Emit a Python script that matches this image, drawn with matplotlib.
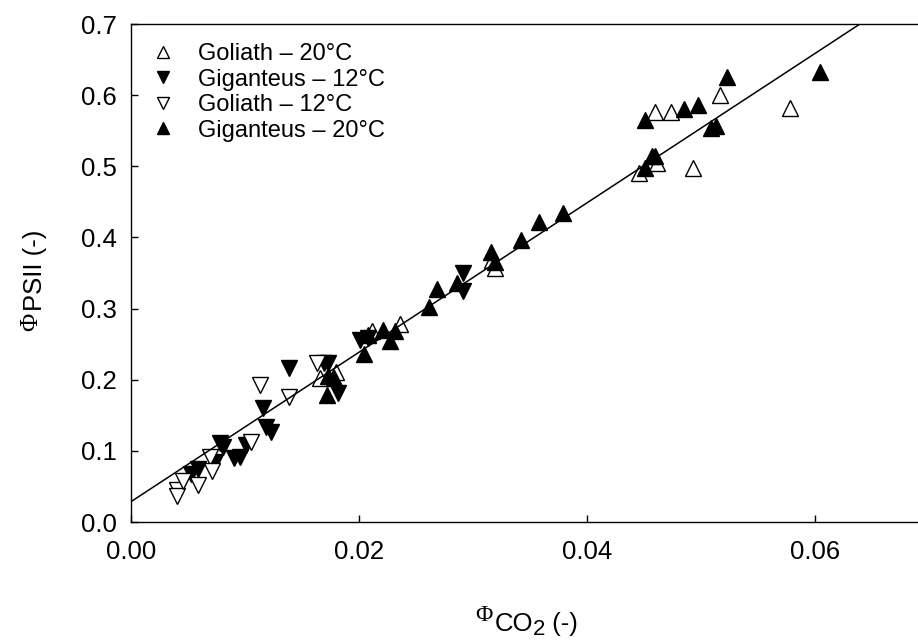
import matplotlib
matplotlib.use("Agg")
import matplotlib.pyplot as plt
import numpy as np

plt.rcParams['font.family'] = ['Liberation Sans', 'DejaVu Sans']

# ---- data ----
goliath20_x = [0.0166, 0.0180, 0.0211, 0.0236, 0.0317, 0.0319, 0.0446, 0.0461,
               0.0460, 0.0474, 0.0493, 0.0517, 0.0578]
goliath20_y = [0.202, 0.211, 0.268, 0.279, 0.368, 0.357, 0.491, 0.504,
               0.576, 0.576, 0.497, 0.600, 0.582]

giganteus12_x = [0.0053, 0.0059, 0.0074, 0.0078, 0.0081, 0.0090, 0.0096, 0.0101,
                 0.0116, 0.0118, 0.0123, 0.0139, 0.0169, 0.0173, 0.0182, 0.0201,
                 0.0208, 0.0291, 0.0291]
giganteus12_y = [0.068, 0.075, 0.085, 0.111, 0.106, 0.090, 0.092, 0.108,
                 0.160, 0.134, 0.127, 0.217, 0.223, 0.223, 0.181, 0.256,
                 0.258, 0.350, 0.324]

goliath12_x = [0.0040, 0.0040, 0.0046, 0.0059, 0.0069, 0.0071, 0.0105, 0.0113,
               0.0139, 0.0163]
goliath12_y = [0.045, 0.036, 0.057, 0.052, 0.092, 0.071, 0.112, 0.193,
               0.176, 0.223]

giganteus20_x = [0.0173, 0.0178, 0.0172, 0.0204, 0.0208, 0.0221, 0.0227, 0.0232,
                 0.0261, 0.0268, 0.0286, 0.0316, 0.0319, 0.0342, 0.0358, 0.0379,
                 0.0451, 0.0457, 0.0460, 0.0451, 0.0485, 0.0497, 0.0509, 0.0513,
                 0.0523, 0.0604]
giganteus20_y = [0.205, 0.202, 0.179, 0.236, 0.263, 0.270, 0.254, 0.268,
                 0.302, 0.327, 0.336, 0.380, 0.366, 0.397, 0.422, 0.434,
                 0.497, 0.514, 0.514, 0.565, 0.580, 0.586, 0.554, 0.557,
                 0.625, 0.633]

fit_intercept = 0.0286
fit_slope = 10.5

labels = ["Goliath \u2013 20\u00b0C", "Giganteus \u2013 12\u00b0C",
          "Goliath \u2013 12\u00b0C", "Giganteus \u2013 20\u00b0C"]
xticks = [0.00, 0.02, 0.04, 0.06]
xticklabels = ["0.00", "0.02", "0.04", "0.06"]
yticks = [0.0, 0.1, 0.2, 0.3, 0.4, 0.5, 0.6, 0.7]
yticklabels = ["0.0", "0.1", "0.2", "0.3", "0.4", "0.5", "0.6", "0.7"]
label_symbol = '\u03a6'
xlabel_parts = ['CO', '2', ' (-)']
ylabel_main = 'PSII (-)'

# ---- figure ----
W, H = 918, 641
fig = plt.figure(figsize=(W / 100, H / 100), dpi=100)
ax = fig.add_axes([131 / W, (H - 522) / H, (929 - 131) / W, 498 / H])

ms = 11
ax.plot(goliath20_x, goliath20_y, linestyle='none', marker='^', ms=ms,
        mfc='white', mec='black', mew=1.0, label=labels[0], zorder=2)
ax.plot(giganteus12_x, giganteus12_y, linestyle='none', marker='v', ms=ms,
        mfc='black', mec='black', mew=1.0, label=labels[1], zorder=2)
ax.plot(goliath12_x, goliath12_y, linestyle='none', marker='v', ms=ms,
        mfc='white', mec='black', mew=1.0, label=labels[2], zorder=2)
ax.plot(giganteus20_x, giganteus20_y, linestyle='none', marker='^', ms=ms,
        mfc='black', mec='black', mew=1.0, label=labels[3], zorder=2)

xl = np.array([0.0, 0.07])
ax.plot(xl, fit_intercept + fit_slope * xl, color='black', lw=1.1, zorder=3)

ax.set_xlim(0, 0.07)
ax.set_ylim(0, 0.7)
ax.set_xticks(xticks)
ax.set_xticklabels(xticklabels)
ax.set_yticks(yticks)
ax.set_yticklabels(yticklabels)
ax.tick_params(axis='both', direction='in', length=5, width=1.0, labelsize=18.5)
ax.tick_params(axis='x', pad=13)
ax.tick_params(axis='y', pad=10)
for s in ax.spines.values():
    s.set_linewidth(1.0)

def fx(px):
    return px / W

def fy(py):
    return (H - py) / H

renderer = fig.canvas.get_renderer()

# x label: serif Phi raised, then "CO", subscript "2", " (-)"
base_y = 631
fig.text(fx(493), fy(base_y - 10), label_symbol, fontsize=17,
         family='Liberation Serif', ha='right', va='baseline')
t_co = fig.text(fx(495), fy(base_y), xlabel_parts[0], fontsize=18.5,
                ha='left', va='baseline')
ext = t_co.get_window_extent(renderer)
t_2 = fig.text((ext.x1 - 1) / W, fy(base_y + 4), xlabel_parts[1], fontsize=16,
               ha='left', va='baseline')
ext2 = t_2.get_window_extent(renderer)
fig.text((ext2.x1) / W, fy(base_y), xlabel_parts[2], fontsize=18.5,
         ha='left', va='baseline')

# y label (rotated)
fig.text(fx(42), fy(311), ylabel_main, fontsize=18.5, rotation=90,
         rotation_mode='anchor', ha='left', va='baseline')
fig.text(fx(37), fy(313), label_symbol, fontsize=18, family='Liberation Serif',
         rotation=90, rotation_mode='anchor', ha='right', va='baseline')

leg = ax.legend(loc='upper left', bbox_to_anchor=(150 / W, (H - 43) / H),
                bbox_transform=fig.transFigure, frameon=False, fontsize=17,
                markerscale=0.8, handlelength=1.1, handletextpad=0.95,
                labelspacing=0.15, borderpad=0, borderaxespad=0)

fig.savefig("out.png", dpi=100)
